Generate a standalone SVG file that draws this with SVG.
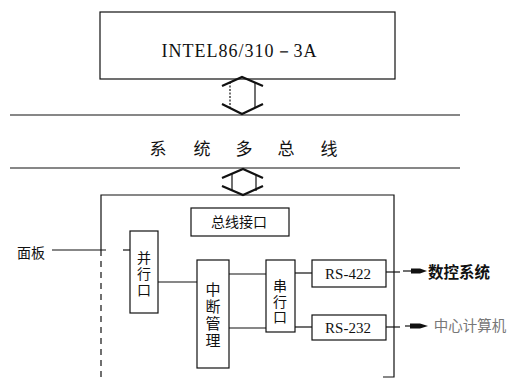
<svg xmlns="http://www.w3.org/2000/svg" width="508" height="379" viewBox="0 0 508 379">
<defs>
<style>
.ln{fill:none;stroke:#111;stroke-width:1.2}
.bx{fill:#fff;stroke:#111;stroke-width:1.2}
.hd{fill:none;stroke:#111;stroke-width:2.2;stroke-linejoin:miter}
.cj{font-family:"Noto Sans CJK SC","Noto Sans",sans-serif;fill:#111;text-anchor:middle}
.vt{writing-mode:vertical-rl}
.lt{font-family:"Liberation Serif","Times New Roman",serif;fill:#111;text-anchor:middle}
</style>
</defs>
<rect width="508" height="379" fill="#fff"/>

<g id="cpu">
<rect class="bx" x="100" y="12" width="295" height="67"/>
<text class="lt" x="239" y="57" font-size="18" textLength="155" lengthAdjust="spacing">INTEL86/310－3A</text>
</g>

<g id="bus">
<line class="ln" x1="10" y1="115" x2="460" y2="115"/>
<line class="ln" x1="10" y1="168" x2="460" y2="168"/>
<text class="cj" y="155" font-size="17"><tspan x="158">系</tspan><tspan x="202">统</tspan><tspan x="244">多</tspan><tspan x="286">总</tspan><tspan x="329">线</tspan></text>
</g>

<g id="board">
<polyline class="ln" points="101,250 101,195 394,195 394,377 383,377"/>
<line class="ln" x1="101" y1="250" x2="101" y2="377" stroke-dasharray="6,5" stroke-width="0.9"/>
</g>

<g id="bus-interface">
<rect class="bx" x="191" y="208" width="98" height="28"/>
<text class="cj" x="239" y="227" font-size="14">总线接口</text>
</g>

<g id="parallel-port">
<rect class="bx" x="130" y="231" width="28" height="82"/>
<text class="cj vt" x="144" y="275" font-size="14" letter-spacing="2">并行口</text>
</g>

<g id="interrupt">
<rect class="bx" x="197" y="260" width="32" height="108"/>
<text class="cj vt" x="213" y="316" font-size="15" letter-spacing="2">中断管理</text>
</g>

<g id="serial-port">
<rect class="bx" x="266" y="260" width="29" height="72"/>
<text class="cj vt" x="280" y="302" font-size="14" letter-spacing="1.5">串行口</text>
</g>

<g id="rs422">
<rect class="bx" x="312" y="260" width="74" height="27"/>
<text class="lt" x="348" y="279" font-size="15">RS-422</text>
</g>

<g id="rs232">
<rect class="bx" x="312" y="315" width="74" height="25"/>
<text class="lt" x="348" y="333" font-size="15">RS-232</text>
</g>

<g id="panel">
<text class="cj" x="31" y="258" font-size="14">面板</text>
</g>

<g id="nc-system">
<text class="cj" x="459" y="278" font-size="15.5" font-weight="bold">数控系统</text>
</g>

<g id="host">
<text class="cj" x="470" y="331" font-size="14.5" style="fill:#777">中心计算机</text>
</g>

<g id="connectors">
<polyline class="hd" points="222,86 242,77 263,86"/>
<polyline class="hd" points="222,104 242,114 263,104" stroke-width="3"/>
<line class="ln" x1="230" y1="82" x2="230" y2="108" stroke-dasharray="2,1.5"/>
<line class="ln" x1="255" y1="82" x2="255" y2="108"/>
<polyline class="hd" points="222,178 243,169 263,178"/>
<polyline class="hd" points="222,186 243,195 263,186" stroke-width="3"/>
<line class="ln" x1="232" y1="174" x2="232" y2="191"/>
<line class="ln" x1="256" y1="174" x2="256" y2="191"/>
<line class="ln" x1="52" y1="250" x2="106" y2="250"/>
<line class="ln" x1="123" y1="250" x2="130" y2="250"/>
<line class="ln" x1="158" y1="282" x2="197" y2="282"/>
<line class="ln" x1="229" y1="274" x2="266" y2="274"/>
<line class="ln" x1="229" y1="328" x2="266" y2="328"/>
<line class="ln" x1="295" y1="273" x2="312" y2="273"/>
<line class="ln" x1="295" y1="327" x2="312" y2="327"/>
<line class="ln" x1="386" y1="272" x2="400" y2="272"/>
<line class="ln" x1="403" y1="271" x2="413" y2="271"/>
<polygon points="411,268.5 420,268.5 427,271 420,273.5 411,273.5" fill="#111"/>
<line class="ln" x1="386" y1="327" x2="400" y2="327"/>
<line class="ln" x1="405" y1="326" x2="412" y2="326"/>
<polygon points="410,323.5 420,323.5 428,326 420,328.5 410,328.5" fill="#111"/>
</g>
</svg>
